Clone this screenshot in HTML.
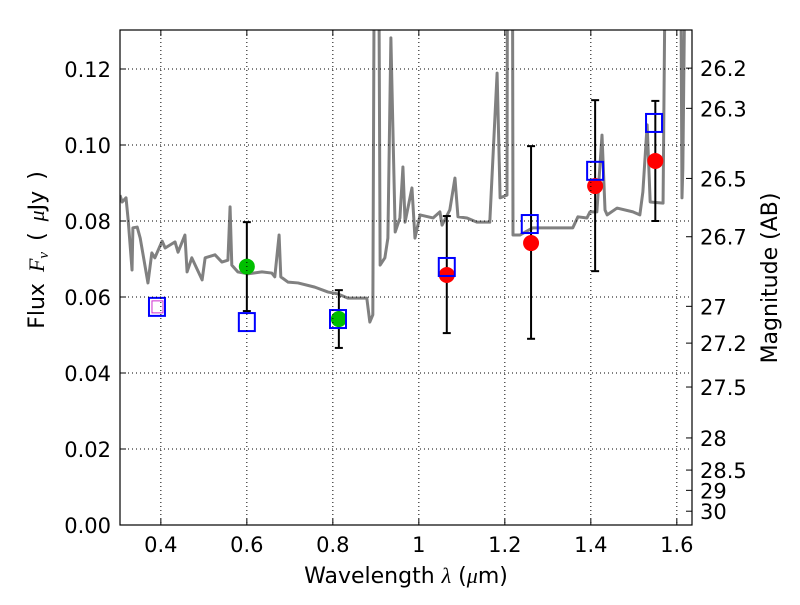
<!DOCTYPE html>
<html><head><meta charset="utf-8"><style>
body{margin:0;background:#fff}
svg text{font-family:"DejaVu Sans","Liberation Sans",sans-serif;font-size:21px;fill:#000}
</style></head><body>
<svg id="c" width="800" height="600" xmlns="http://www.w3.org/2000/svg"></svg>
<script>
const specWl=[0.305,0.310,0.319,0.324,0.333,0.335,0.345,0.352,0.370,0.379,0.386,0.403,0.410,0.433,0.440,0.456,0.461,0.472,0.496,0.503,0.526,0.542,0.556,0.561,0.565,0.579,0.603,0.635,0.658,0.665,0.675,0.679,0.696,0.719,0.758,0.789,0.812,0.835,0.879,0.886,0.893,0.898,0.905,0.910,0.921,0.928,0.935,0.945,0.956,0.963,0.968,0.984,0.991,1.003,1.033,1.049,1.054,1.072,1.084,1.091,1.112,1.135,1.165,1.182,1.189,1.205,1.207,1.217,1.219,1.235,1.265,1.305,1.358,1.370,1.391,1.398,1.414,1.426,1.433,1.438,1.461,1.498,1.514,1.521,1.531,1.538,1.568,1.577,1.607,1.612,1.614,1.624,1.631];
const specFlux=[0.0868,0.0850,0.0861,0.0803,0.0671,0.0782,0.0784,0.0755,0.0637,0.0716,0.0703,0.0747,0.0729,0.0745,0.0718,0.0763,0.0666,0.0703,0.0645,0.0703,0.0711,0.0692,0.0697,0.0837,0.0684,0.0666,0.0661,0.0666,0.0663,0.0653,0.0763,0.0653,0.0639,0.0637,0.0626,0.0613,0.0608,0.0597,0.0597,0.0534,0.0553,0.2,0.2,0.0684,0.0703,0.0755,0.1282,0.0771,0.0808,0.0942,0.0797,0.0887,0.0755,0.0816,0.0808,0.0824,0.0789,0.0829,0.0913,0.0811,0.0808,0.0797,0.0797,0.1189,0.0861,0.0868,0.2,0.2,0.0763,0.0763,0.0782,0.0782,0.0782,0.0811,0.0808,0.0824,0.0824,0.1026,0.0829,0.0816,0.0834,0.0824,0.0816,0.0876,0.1053,0.0850,0.0847,0.2,0.2,0.0861,0.0939,0.2,0.2];
const greenWl=[0.600,0.814], greenFlux=[0.0680,0.0542], greenLo=[0.0563,0.0466], greenHi=[0.0797,0.0618];
const redWl=[1.065,1.261,1.410,1.550], redFlux=[0.0658,0.0742,0.0892,0.0958], redLo=[0.0505,0.0490,0.0668,0.0800], redHi=[0.0813,0.0997,0.1118,0.1116];
const sqWl=[0.391,0.600,0.812,1.065,1.258,1.410,1.547], sqFlux=[0.0574,0.0534,0.0542,0.0679,0.0792,0.0932,0.1058];
const xTicks=[0.4,0.6,0.8,1.0,1.2,1.4,1.6], xTickLabels=["0.4","0.6","0.8","1","1.2","1.4","1.6"];
const yTicks=[0,0.02,0.04,0.06,0.08,0.10,0.12], yTickLabels=["0.00","0.02","0.04","0.06","0.08","0.10","0.12"];
const magTicks=[26.2,26.3,26.5,26.7,27,27.2,27.5,28,28.5,29,30];
const L=120,R=692,T=30,B=525,X0=0.305,X1=1.6353,Y0=0,Y1=0.13026;
const sx=v=>L+(v-X0)/(X1-X0)*(R-L), sy=v=>B-(v-Y0)/(Y1-Y0)*(B-T);
const svg=document.getElementById('c'),NS='http://www.w3.org/2000/svg';
function mk(t,a,p){const e=document.createElementNS(NS,t);for(const k in a)e.setAttribute(k,a[k]);(p||svg).appendChild(e);return e;}
const defs=mk('defs',{});const cp=mk('clipPath',{id:'pc'},defs);mk('rect',{x:L,y:T,width:R-L,height:B-T},cp);
const g=mk('g',{'clip-path':'url(#pc)'});
xTicks.forEach((v,i)=>{const x=sx(v);
 const gl=mk('line',{x1:x,x2:x,y1:T,y2:B,stroke:'#000','stroke-width':1,'stroke-dasharray':'1,3'});
 
 mk('line',{x1:x,x2:x,y1:B,y2:B-6,stroke:'#000'});mk('line',{x1:x,x2:x,y1:T,y2:T+6,stroke:'#000'});
 const t=mk('text',{x:x,y:B+27,'text-anchor':'middle'});t.textContent=xTickLabels[i];
 });
yTicks.forEach((v,i)=>{const y=sy(v);
 const gl=mk('line',{x1:L,x2:R,y1:y,y2:y,stroke:'#000','stroke-width':1,'stroke-dasharray':'1,3'});
 
 mk('line',{x1:L,x2:L+6,y1:y,y2:y,stroke:'#000'});
 const t=mk('text',{x:L-9,y:y+8,'text-anchor':'end'});t.textContent=yTickLabels[i];
 });
magTicks.forEach(m=>{const y=sy(Math.pow(10,(23.9-m)/2.5));
 mk('line',{x1:R,x2:R-6,y1:y,y2:y,stroke:'#000'});
 const t=mk('text',{x:R+8,y:y+8});t.textContent=String(m);
 });
const sp=mk('polyline',{points:specWl.map((w,i)=>sx(w)+','+sy(specFlux[i])).join(' '),fill:'none',stroke:'#808080','stroke-width':3,'stroke-linejoin':'round'},g);

function err(w,lo,hi){const x=sx(w);mk('line',{x1:x,x2:x,y1:sy(lo),y2:sy(hi),stroke:'#000','stroke-width':2},g);
 [lo,hi].forEach(v=>mk('line',{x1:x-4,x2:x+4,y1:sy(v),y2:sy(v),stroke:'#000','stroke-width':2},g));}
greenWl.forEach((w,i)=>err(w,greenLo[i],greenHi[i]));
redWl.forEach((w,i)=>err(w,redLo[i],redHi[i]));
greenWl.forEach((w,i)=>{const c=mk('circle',{cx:sx(w),cy:sy(greenFlux[i]),r:8,fill:'#00bf00'},g);
 });
redWl.forEach((w,i)=>{const c=mk('circle',{cx:sx(w),cy:sy(redFlux[i]),r:8,fill:'#ff0000'},g);
 });
sqWl.forEach((w,i)=>{const x=sx(w),y=sy(sqFlux[i]);
 const s=mk('rect',{x:x-8,y:y-9,width:16,height:18,fill:'none',stroke:'#0000ff','stroke-width':2},g);
 
 if(i===0)mk('rect',{x:x-5,y:y-6,width:11,height:12,fill:'none',stroke:'#d030d0','stroke-width':1},g);});
const fr=mk('rect',{x:L,y:T,width:R-L,height:B-T,fill:'none',stroke:'#000','stroke-width':1.2});

</script>
<svg width="800" height="600" style="position:absolute;left:0;top:0" xmlns="http://www.w3.org/2000/svg">
<text x="406" y="583" text-anchor="middle" style="font-family:'DejaVu Sans','Liberation Sans',sans-serif;font-size:22px">Wavelength  <tspan font-style="italic" font-family="Liberation Serif">λ</tspan> (<tspan font-style="italic" font-family="Liberation Serif">μ</tspan>m)</text>
<text transform="translate(44,250) rotate(-90)" text-anchor="middle" style="font-family:'DejaVu Sans','Liberation Sans',sans-serif;font-size:22px;word-spacing:4px">Flux   <tspan font-style="italic" font-family="Liberation Serif">F<tspan font-size="15" dy="4">ν</tspan></tspan><tspan dy="-4">   (  </tspan><tspan font-style="italic" font-family="Liberation Serif">μ</tspan>Jy )</text>
<text transform="translate(777,278) rotate(-90)" text-anchor="middle" style="font-family:'DejaVu Sans','Liberation Sans',sans-serif;font-size:22px">Magnitude (AB)</text>
</svg>
</body></html>
